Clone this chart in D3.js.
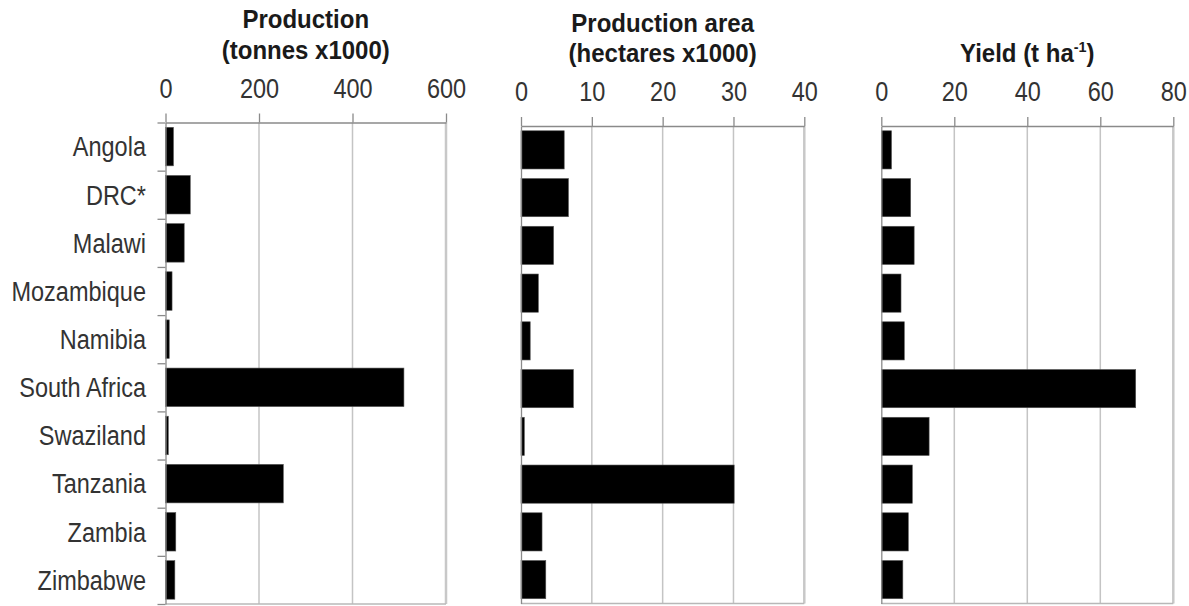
<!DOCTYPE html>
<html>
<head>
<meta charset="utf-8">
<script src="https://cdn.jsdelivr.net/npm/d3@7"></script>
<style>
  html, body { margin: 0; padding: 0; background: #fff; }
  svg { display: block; }
  text { font-family: "Liberation Sans", Arial, sans-serif; }
</style>
</head>
<body>
<svg id="chart" width="1189" height="606"></svg>
<script>
// Countries, top to bottom
const countries = ["Angola", "DRC*", "Malawi", "Mozambique", "Namibia",
  "South Africa", "Swaziland", "Tanzania", "Zambia", "Zimbabwe"];

// Production (tonnes x1000)
const production = [17, 53, 40, 14, 8, 510, 6, 252, 22, 20];
// Production area (hectares x1000)
const area = [6.1, 6.7, 4.6, 2.45, 1.3, 7.4, 0.47, 30.1, 2.97, 3.5];
// Yield (t/ha)
const yieldValues = [2.8, 8.05, 9.0, 5.4, 6.3, 69.7, 13.1, 8.5, 7.4, 5.9];

// Axis tick values
const productionTicks = [0, 200, 400, 600];
const areaTicks = [0, 10, 20, 30, 40];
const yieldTicks = [0, 20, 40, 60, 80];

const svg = d3.select("#chart");
const NARROW = 0.84;   // horizontal condensing for the regular labels

const panels = [
  { values: production, ticks: productionTicks, x0: 165.5, x1: 446, top: 122.5, bottom: 604,
    title: ["Production", "(tonnes x1000)"], categoryAxis: true },
  { values: area, ticks: areaTicks, x0: 521, x1: 804.3, top: 126, bottom: 603.5,
    title: ["Production area", "(hectares x1000)"], categoryAxis: false },
  { values: yieldValues, ticks: yieldTicks, x0: 881.3, x1: 1173.3, top: 126, bottom: 603.5,
    title: null, categoryAxis: false }
];

panels.forEach((p) => {
  const x = d3.scaleLinear()
    .domain([0, d3.max(p.ticks)])
    .range([p.x0, p.x1]);
  const y = d3.scaleBand()
    .domain(countries)
    .range([p.top, p.bottom])
    .paddingInner(0.2)
    .paddingOuter(0.1);

  const g = svg.append("g");

  // vertical gridlines
  g.append("g").selectAll("line")
    .data(p.ticks.slice(1, -1))
    .join("line")
    .attr("x1", d => x(d)).attr("x2", d => x(d))
    .attr("y1", p.top).attr("y2", p.bottom)
    .attr("stroke", "#c4c4c4").attr("stroke-width", 1.5);

  // right border
  g.append("line")
    .attr("x1", x(d3.max(p.ticks))).attr("x2", x(d3.max(p.ticks)))
    .attr("y1", p.top).attr("y2", p.bottom)
    .attr("stroke", "#c8c8c8").attr("stroke-width", 2.5);

  // bottom border
  g.append("line")
    .attr("x1", p.x0).attr("x2", p.x1)
    .attr("y1", p.bottom).attr("y2", p.bottom)
    .attr("stroke", "#b8b8b8").attr("stroke-width", 1.5);

  // bars
  g.append("g").selectAll("rect")
    .data(countries.map((c, i) => ({ c, v: p.values[i] })))
    .join("rect")
    .attr("x", x(0))
    .attr("y", d => y(d.c))
    .attr("width", d => x(d.v) - x(0))
    .attr("height", y.bandwidth())
    .attr("fill", "#000")
    .attr("stroke", "#555")
    .attr("stroke-width", 0.6);

  // top value axis
  const topAxis = g.append("g")
    .attr("transform", `translate(0,${p.top})`)
    .call(d3.axisTop(x).tickValues(p.ticks).tickFormat(d3.format("d"))
      .tickSizeInner(9).tickSizeOuter(0).tickPadding(16));
  topAxis.select(".domain").attr("stroke", "#8a8a8a").attr("stroke-width", 1.3);
  topAxis.selectAll(".tick line").attr("stroke", "#8a8a8a").attr("stroke-width", 1.3);
  topAxis.selectAll("text")
    .attr("font-size", 28)
    .attr("fill", "#333")
    .attr("transform", `scale(${NARROW},1)`);

  // left axis line with ticks at category boundaries
  const bounds = d3.scaleLinear().domain([0, countries.length]).range([p.top, p.bottom]);
  const leftAxis = g.append("g")
    .attr("transform", `translate(${p.x0},0)`)
    .call(d3.axisLeft(bounds)
      .tickValues(d3.range(countries.length + 1))
      .tickFormat("")
      .tickSizeInner(p.categoryAxis ? 8 : 0)
      .tickSizeOuter(0));
  leftAxis.select(".domain").attr("stroke", "#8a8a8a").attr("stroke-width", 1.3);
  leftAxis.selectAll(".tick line").attr("stroke", "#8a8a8a").attr("stroke-width", 1.3);

  // category labels
  if (p.categoryAxis) {
    const gap = 19.5;
    const labelAxis = g.append("g")
      .attr("transform", `translate(${p.x0},0)`)
      .call(d3.axisLeft(y).tickSize(0).tickPadding(0));
    labelAxis.select(".domain").remove();
    labelAxis.selectAll("text")
      .attr("font-size", 28)
      .attr("fill", "#333")
      .attr("x", -gap / NARROW)
      .attr("dy", "0.35em")
      .attr("transform", `scale(${NARROW},1)`);
  }

  // panel title
  const cx = (p.x0 + p.x1) / 2;
  const titleG = g.append("g")
    .attr("transform", `translate(${cx},0) scale(0.96,1)`);
  if (p.title) {
    p.title.forEach((t, i) => {
      titleG.append("text")
        .attr("x", 0)
        .attr("y", p.top - 94 + i * 30.5)
        .attr("text-anchor", "middle")
        .attr("font-size", 25)
        .attr("font-weight", "bold")
        .attr("fill", "#1a1a1a")
        .text(t);
    });
  } else {
    const t = titleG.append("text")
      .attr("x", 0)
      .attr("y", p.top - 64)
      .attr("text-anchor", "middle")
      .attr("font-size", 25)
      .attr("font-weight", "bold")
      .attr("fill", "#1a1a1a");
    t.append("tspan").text("Yield (t ha");
    t.append("tspan").attr("font-size", 15).attr("dy", -10).text("-1");
    t.append("tspan").attr("dy", 10).text(")");
  }
});
</script>
</body>
</html>
